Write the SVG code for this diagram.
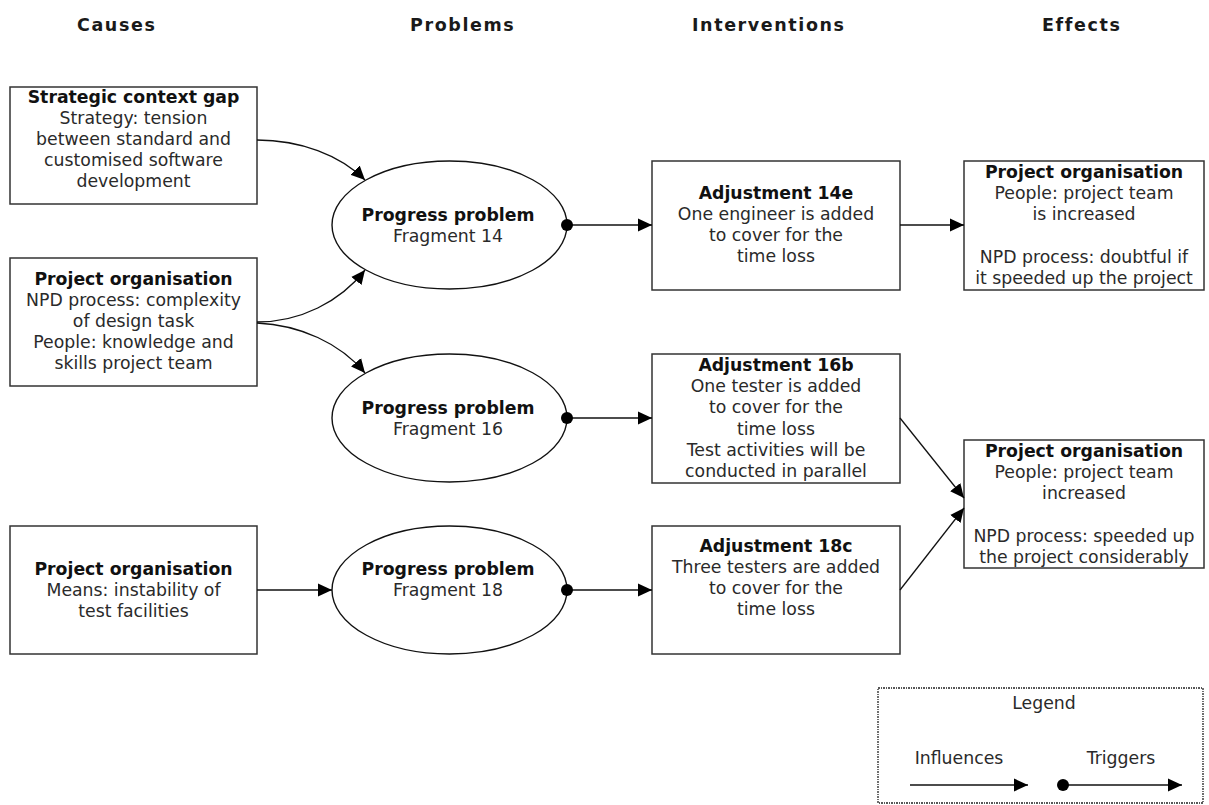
<svg xmlns="http://www.w3.org/2000/svg" width="1209" height="805" viewBox="0 0 1209 805">
  <style>
    .hdr { font-family: "DejaVu Sans", Verdana, sans-serif; font-size: 17.5px; font-weight: bold; letter-spacing: 1.6px; fill: #1a1a1a; }
    .t { font-family: "DejaVu Sans", Verdana, sans-serif; font-size: 17.3px; text-anchor: middle; fill: #2a2a2a; }
    .b { font-weight: bold; fill: #111; }
    .box { fill: #fff; stroke: #333; stroke-width: 1.5; }
    .ell { fill: #fff; stroke: #111; stroke-width: 1.4; }
    .con { fill: none; stroke: #111; stroke-width: 1.3; }
    .inf { marker-end: url(#arrow); }
    .trg { marker-start: url(#dot); marker-end: url(#arrow); }
    .legend { fill: #fff; stroke: #222; stroke-width: 1.3; stroke-dasharray: 2 1 1 1; }
  </style>
  <defs>
    <marker id="arrow" markerUnits="userSpaceOnUse" markerWidth="15" markerHeight="14" refX="14" refY="7" orient="auto">
      <path d="M0,0.5 L14,7 L0,13.5 z" fill="#000"/>
    </marker>
    <marker id="dot" markerUnits="userSpaceOnUse" markerWidth="14" markerHeight="14" refX="7" refY="7" orient="auto">
      <circle cx="7" cy="7" r="6" fill="#000"/>
    </marker>
  </defs>

  <!-- column headings -->
  <g id="headings">
    <text class="hdr" x="77" y="31">Causes</text>
    <text class="hdr" x="410" y="31">Problems</text>
    <text class="hdr" x="692" y="31">Interventions</text>
    <text class="hdr" x="1042" y="31">Effects</text>
  </g>

  <!-- causes -->
  <g id="cause-strategic">
    <rect class="box" x="10" y="87" width="247" height="117"/>
    <text class="t b" x="133.5" y="103">Strategic context gap</text>
    <text class="t" x="133.5" y="124">Strategy: tension</text>
    <text class="t" x="133.5" y="145">between standard and</text>
    <text class="t" x="133.5" y="166">customised software</text>
    <text class="t" x="133.5" y="187">development</text>
  </g>
  <g id="cause-organisation-1">
    <rect class="box" x="10" y="258" width="247" height="128"/>
    <text class="t b" x="133.5" y="285">Project organisation</text>
    <text class="t" x="133.5" y="306">NPD process: complexity</text>
    <text class="t" x="133.5" y="327">of design task</text>
    <text class="t" x="133.5" y="348">People: knowledge and</text>
    <text class="t" x="133.5" y="369">skills project team</text>
  </g>
  <g id="cause-organisation-2">
    <rect class="box" x="10" y="526" width="247" height="128"/>
    <text class="t b" x="133.5" y="575">Project organisation</text>
    <text class="t" x="133.5" y="596">Means: instability of</text>
    <text class="t" x="133.5" y="617">test facilities</text>
  </g>

  <!-- problems -->
  <g id="problem-14">
    <ellipse class="ell" cx="449.5" cy="225" rx="117.5" ry="64"/>
    <text class="t b" x="448" y="221">Progress problem</text>
    <text class="t" x="448" y="242">Fragment 14</text>
  </g>
  <g id="problem-16">
    <ellipse class="ell" cx="449.5" cy="418" rx="117.5" ry="64"/>
    <text class="t b" x="448" y="414">Progress problem</text>
    <text class="t" x="448" y="435">Fragment 16</text>
  </g>
  <g id="problem-18">
    <ellipse class="ell" cx="449.5" cy="590" rx="117.5" ry="64"/>
    <text class="t b" x="448" y="575">Progress problem</text>
    <text class="t" x="448" y="596">Fragment 18</text>
  </g>

  <!-- interventions -->
  <g id="adjustment-14e">
    <rect class="box" x="652" y="161" width="248" height="129"/>
    <text class="t b" x="776" y="199">Adjustment 14e</text>
    <text class="t" x="776" y="220">One engineer is added</text>
    <text class="t" x="776" y="241">to cover for the</text>
    <text class="t" x="776" y="262">time loss</text>
  </g>
  <g id="adjustment-16b">
    <rect class="box" x="652" y="354" width="248" height="129"/>
    <text class="t b" x="776" y="371">Adjustment 16b</text>
    <text class="t" x="776" y="392">One tester is added</text>
    <text class="t" x="776" y="413">to cover for the</text>
    <text class="t" x="776" y="435">time loss</text>
    <text class="t" x="776" y="456">Test activities will be</text>
    <text class="t" x="776" y="477">conducted in parallel</text>
  </g>
  <g id="adjustment-18c">
    <rect class="box" x="652" y="526" width="248" height="128"/>
    <text class="t b" x="776" y="552">Adjustment 18c</text>
    <text class="t" x="776" y="573">Three testers are added</text>
    <text class="t" x="776" y="594">to cover for the</text>
    <text class="t" x="776" y="615">time loss</text>
  </g>

  <!-- effects -->
  <g id="effect-1">
    <rect class="box" x="964" y="161" width="240" height="129"/>
    <text class="t b" x="1084" y="178">Project organisation</text>
    <text class="t" x="1084" y="199">People: project team</text>
    <text class="t" x="1084" y="220">is increased</text>
    <text class="t" x="1084" y="263">NPD process: doubtful if</text>
    <text class="t" x="1084" y="284">it speeded up the project</text>
  </g>
  <g id="effect-2">
    <rect class="box" x="964" y="440" width="240" height="128"/>
    <text class="t b" x="1084" y="457">Project organisation</text>
    <text class="t" x="1084" y="478">People: project team</text>
    <text class="t" x="1084" y="499">increased</text>
    <text class="t" x="1084" y="542">NPD process: speeded up</text>
    <text class="t" x="1084" y="563">the project considerably</text>
  </g>

  <!-- legend -->
  <g id="legend">
    <rect class="legend" x="878" y="688" width="325" height="115"/>
    <text class="t" x="1044" y="709">Legend</text>
    <text class="t" x="959" y="764">Influences</text>
    <text class="t" x="1121" y="764">Triggers</text>
    <path class="con inf" d="M910,785 L1028,785"/>
    <path class="con trg" d="M1063,785 L1182,785"/>
  </g>

  <!-- connectors, drawn above the nodes so the trigger dots stay whole -->
  <g id="connectors">
    <path class="con inf" d="M257,140 C300,140 340,155 365,180"/>
    <path class="con inf" d="M257,322 C300,322 340,302 365,270"/>
    <path class="con inf" d="M257,323 C300,325 340,343 365,373"/>
    <path class="con inf" d="M257,590 L332,590"/>
    <path class="con trg" d="M567,225 L652,225"/>
    <path class="con trg" d="M567,418 L652,418"/>
    <path class="con trg" d="M567,590 L652,590"/>
    <path class="con inf" d="M900,225 L964,225"/>
    <path class="con inf" d="M900,418 L964,498"/>
    <path class="con inf" d="M900,590 L964,508"/>
  </g>
</svg>
